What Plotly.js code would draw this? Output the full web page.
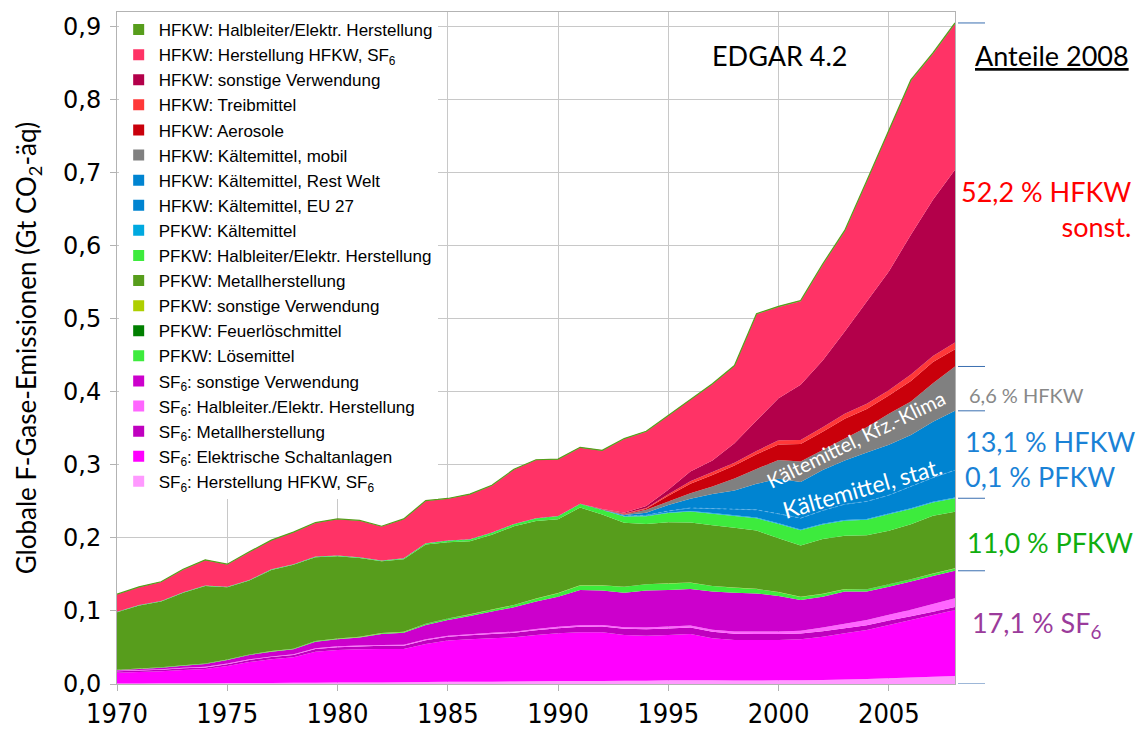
<!DOCTYPE html>
<html><head><meta charset="utf-8">
<script src="https://cdn.plot.ly/plotly-3.0.1.min.js"></script>
<style>html,body{margin:0;padding:0;background:#fff}#chart{width:1141px;height:729px}</style>
</head><body><div id="chart"></div>
<script>
const years = [1970,1971,1972,1973,1974,1975,1976,1977,1978,1979,1980,1981,1982,1983,1984,1985,1986,1987,1988,1989,1990,1991,1992,1993,1994,1995,1996,1997,1998,1999,2000,2001,2002,2003,2004,2005,2006,2007,2008];

// Series values (Gt CO2-äq), bottom of stack first
const sf6Herst   = [.0008,.0008,.0009,.001,.001,.0012,.0013,.0015,.0016,.0018,.002,.002,.0022,.0024,.0026,.003,.003,.0032,.0034,.0036,.004,.004,.0042,.0044,.0045,.005,.005,.005,.0048,.0048,.005,.005,.0055,.006,.007,.008,.009,.010,.011];
const sf6Schalt  = [.0147,.0156,.0165,.0182,.0195,.0235,.0287,.0323,.0349,.0425,.0446,.0455,.0458,.0456,.0522,.0564,.0582,.0594,.0606,.0635,.0654,.0668,.0666,.0627,.0617,.0621,.0635,.0576,.0555,.0555,.0553,.0562,.0593,.0634,.0670,.0728,.0787,.0845,.0904];
const sf6Metall  = [.002,.002,.002,.0022,.0022,.0025,.003,.003,.0032,.0035,.0038,.004,.0042,.0045,.005,.0052,.0055,.0058,.006,.0065,.007,.0075,.008,.0085,.0088,.009,.009,.0088,.0085,.0082,.008,.0078,.0075,.007,.0065,.006,.005,.0045,.004];
const sf6Halbl   = [.0008,.0008,.0008,.0008,.0009,.0009,.0009,.001,.001,.0011,.0012,.0012,.0013,.0013,.0014,.0015,.0015,.0016,.0017,.0018,.002,.002,.0021,.0022,.0023,.0025,.0027,.0029,.0031,.0033,.0035,.004,.005,.006,.007,.008,.009,.0105,.012];
const sf6Sonst   = [.0007,.0013,.0022,.0029,.0038,.0048,.0058,.0065,.0068,.0091,.0096,.0108,.015,.0162,.0196,.0216,.025,.0291,.0333,.0374,.0412,.0485,.047,.0472,.0506,.0502,.0498,.0522,.0531,.0522,.0487,.042,.0423,.0441,.039,.0385,.0385,.0385,.0376];
const pfkwLoese  = [.0003,.0003,.0003,.0004,.0004,.0005,.0005,.0006,.0006,.0007,.0008,.0009,.001,.0012,.0015,.0018,.002,.0025,.003,.0038,.0046,.006,.007,.008,.0085,.0088,.0085,.0075,.0068,.006,.005,.004,.0035,.0032,.003,.003,.003,.003,.003];
const pfkwFeuer  = [.0001,.0001,.0001,.0001,.0001,.0001,.0001,.0001,.0001,.0001,.0001,.0001,.0001,.0001,.0001,.0001,.0001,.0001,.0001,.0001,.0001,.0001,.0001,.0001,.0001,.0001,.0001,.0001,.0001,.0001,.0001,.0001,.0001,.0001,.0001,.0001,.0001,.0001,.0001];
const pfkwSonst  = [.0002,.0002,.0002,.0002,.0002,.0002,.0002,.0002,.0002,.0002,.0002,.0002,.0002,.0002,.0002,.0002,.0002,.0002,.0002,.0002,.0002,.0002,.0002,.0002,.0002,.0002,.0002,.0002,.0002,.0002,.0002,.0002,.0002,.0002,.0002,.0002,.0002,.0002,.0002];
const pfkwMetall = [.0788,.0863,.0901,.0991,.1062,.0989,.1012,.111,.1147,.1145,.1127,.1078,.0981,.0992,.1083,.1043,.0999,.1024,.1075,.1063,.1011,.1065,.0967,.0874,.0823,.0836,.0823,.0831,.0819,.0797,.0737,.0702,.0751,.0728,.0739,.0731,.0753,.0789,.0774];
const pfkwHalbl  = [.0006,.0006,.0006,.0007,.0007,.0007,.0008,.0008,.0009,.0009,.001,.001,.0011,.0013,.0018,.0022,.0026,.003,.0034,.0038,.0045,.005,.0065,.0085,.0105,.0125,.0149,.0156,.016,.017,.0195,.021,.020,.0207,.0213,.0228,.0207,.0183,.0186];
const pfkwKaelte = [0,0,0,0,0,0,0,0,0,0,0,0,0,0,0,0,0,0,0,0,0,0,0,.0003,.0005,.0008,.001,.001,.001,.001,.001,.001,.001,.001,.001,.001,.001,.001,.001];
const hfkwEU     = [0,0,0,0,0,0,0,0,0,0,0,0,0,0,0,0,0,0,0,0,0,0,.0001,.0005,.001,.002,.004,.006,.008,.0105,.013,.0155,.018,.0215,.024,.025,.030,.033,.0375];
const hfkwRest   = [0,0,0,0,0,0,0,0,0,0,0,0,0,0,0,0,0,0,0,0,0,0,.0002,.0012,.0035,.0084,.0125,.020,.026,.0355,.048,.0495,.0555,.060,.067,.069,.0705,.0765,.0812];
const hfkwMobil  = [0,0,0,0,0,0,0,0,0,0,0,0,0,0,0,0,0,0,0,0,0,0,.0002,.0008,.0039,.0046,.0077,.0103,.0163,.0205,.0258,.0281,.0275,.0301,.0346,.0424,.0458,.0529,.0607];
const hfkwAero   = [0,0,0,0,0,0,0,0,0,0,0,0,0,0,0,0,0,0,0,0,0,0,.0003,.0008,.0015,.008,.013,.016,.018,.020,.021,.024,.025,.027,.025,.025,.028,.029,.0235];
const hfkwTreib  = [0,0,0,0,0,0,0,0,0,0,0,0,0,0,0,0,0,0,0,0,0,0,.0002,.0005,.001,.002,.0035,.0038,.0035,.0045,.0058,.0055,.006,.0068,.0072,.0074,.009,.008,.0095];
const hfkwSonst  = [0,0,0,0,0,0,0,0,0,0,0,0,0,0,0,0,0,0,0,0,0,0,.0003,.001,.0029,.006,.0132,.0158,.0269,.0417,.0577,.0755,.0914,.1127,.1399,.1625,.1913,.2141,.2364];
const hfkwHerst  = [.0235,.0245,.0258,.0309,.0345,.0302,.038,.0395,.0435,.0461,.0495,.05,.0465,.0535,.0578,.0572,.0615,.0642,.0743,.0795,.0774,.0767,.0796,.101,.1015,.1015,.0984,.1044,.1056,.1456,.125,.1144,.1311,.1374,.1643,.1932,.2109,.200,.1999];
const hfkwHalbl  = [.0005,.0005,.0005,.0005,.0005,.0005,.0005,.0005,.0005,.0005,.0005,.0005,.0005,.0005,.0005,.0005,.0005,.0005,.0005,.0005,.0005,.0007,.0007,.0007,.0007,.0007,.0007,.0007,.0007,.0007,.0007,.001,.001,.001,.001,.001,.001,.001,.001];

const seriesNames = [
  "SF<sub>6</sub>: Herstellung HFKW, SF<sub>6</sub>",
  "SF<sub>6</sub>: Elektrische Schaltanlagen",
  "SF<sub>6</sub>: Metallherstellung",
  "SF<sub>6</sub>: Halbleiter./Elektr. Herstellung",
  "SF<sub>6</sub>: sonstige Verwendung",
  "PFKW: Lösemittel",
  "PFKW: Feuerlöschmittel",
  "PFKW: sonstige Verwendung",
  "PFKW: Metallherstellung",
  "PFKW: Halbleiter/Elektr. Herstellung",
  "PFKW: Kältemittel",
  "HFKW: Kältemittel, EU 27",
  "HFKW: Kältemittel, Rest Welt",
  "HFKW: Kältemittel, mobil",
  "HFKW: Aerosole",
  "HFKW: Treibmittel",
  "HFKW: sonstige Verwendung",
  "HFKW: Herstellung HFKW, SF<sub>6</sub>",
  "HFKW: Halbleiter/Elektr. Herstellung"
];
const seriesValues = [sf6Herst,sf6Schalt,sf6Metall,sf6Halbl,sf6Sonst,pfkwLoese,pfkwFeuer,pfkwSonst,pfkwMetall,pfkwHalbl,pfkwKaelte,hfkwEU,hfkwRest,hfkwMobil,hfkwAero,hfkwTreib,hfkwSonst,hfkwHerst,hfkwHalbl];
const seriesColors = ["#ff99ff","#ff00ff","#bf00bf","#ff66ff","#cc00cc","#3deb3d","#007f00","#aecf00","#579d1c","#3deb3d","#00a9e0","#0084d1","#0084d1","#808080","#c9000b","#ff3838","#b3004a","#ff3366","#579d1c"];

// share labels (2008)
const shareTexts = ["52,2 % HFKW<br>sonst.","6,6 % HFKW","13,1 % HFKW<br>0,1 % PFKW","11,0 % PFKW","17,1 % SF<sub>6</sub>"];
const bandLabels = ["Kältemittel, Kfz.-Klima","Kältemittel, stat."];

const traces = [];
seriesValues.forEach((vals,i)=>{
  const t = {x:years, y:vals, type:'scatter', stackgroup:'one', mode:'none',
    fillcolor:seriesColors[i], showlegend:false, hoverinfo:'skip', name:seriesNames[i]};
  if(i===18){ t.mode='lines'; t.line={color:'#579d1c', width:1.2}; }
  if(i===11){ t.mode='lines'; t.line={color:'#6fb8ea', width:0.8, dash:'dot'}; }
  traces.push(t);
});
// legend entries (top of stack listed first)
for(let i=seriesValues.length-1;i>=0;i--){
  traces.push({x:[null], y:[null], type:'scatter', mode:'markers', name:seriesNames[i],
    marker:{symbol:'square', size:11, color:seriesColors[i]}, showlegend:true, hoverinfo:'skip'});
}

// cumulative tops in the last year for the share brackets
const last = years.length-1;
function cumTo(idx){ let s=0; for(let k=0;k<=idx;k++) s+=seriesValues[k][last]; return s; }
const bracketLevels = [0, cumTo(4), cumTo(9), cumTo(12), cumTo(13), cumTo(18)];
const shapes = bracketLevels.map(v=>({type:'line', xref:'paper', yref:'y', x0:1.0036, x1:1.0358, y0:v, y1:v,
  line:{color:'#3a6fb0', width:1}}));

const F = 'Lato, "Open Sans", sans-serif';
const annotations = [
  {xref:'paper', yref:'paper', x:0.7912, y:0.936, text:'EDGAR 4.2', showarrow:false, xanchor:'center', yanchor:'middle', font:{family:F, size:27, color:'#000'}},
  {xref:'paper', yref:'paper', x:1.1158, y:0.936, text:'Anteile 2008', showarrow:false, xanchor:'center', yanchor:'middle', font:{family:F, size:27, color:'#000', lineposition:'under'}},
  {xref:'paper', yref:'paper', x:1.2124, y:0.7068, text:shareTexts[0], showarrow:false, xanchor:'right', yanchor:'middle', align:'right', font:{family:F, size:27, color:'#ff0000'}},
  {xref:'paper', yref:'paper', x:1.0143, y:0.430, text:shareTexts[1], showarrow:false, xanchor:'left', yanchor:'middle', font:{family:F, size:20, color:'#888888'}},
  {xref:'paper', yref:'paper', x:1.0096, y:0.3348, text:shareTexts[2], showarrow:false, xanchor:'left', yanchor:'middle', align:'left', font:{family:F, size:27, color:'#1a82d6'}},
  {xref:'paper', yref:'paper', x:1.012, y:0.2113, text:shareTexts[3], showarrow:false, xanchor:'left', yanchor:'middle', font:{family:F, size:27, color:'#10ae10'}},
  {xref:'paper', yref:'paper', x:1.018, y:0.0878, text:shareTexts[4], showarrow:false, xanchor:'left', yanchor:'middle', font:{family:F, size:27, color:'#9b3b9b'}},
  {xref:'x', yref:'y', x:2003.5, y:0.3356, text:bandLabels[0], showarrow:false, textangle:-26, font:{family:F, size:20, color:'#ffffff'}},
  {xref:'x', yref:'y', x:2003.76, y:0.2685, text:bandLabels[1], showarrow:false, textangle:-16, font:{family:F, size:23, color:'#ffffff'}}
];

const layout = {
  width:1141, height:729,
  margin:{l:117, r:186, t:12, b:45, pad:0},
  paper_bgcolor:'#ffffff', plot_bgcolor:'#ffffff',
  separators:',.',
  font:{family:'"Liberation Sans", Arial, sans-serif', color:'#000'},
  showlegend:true,
  legend:{x:0.002, y:1, xanchor:'left', yanchor:'top', bgcolor:'#ffffff', borderwidth:0,
    traceorder:'normal', itemsizing:'trace', font:{family:'"Liberation Sans", Arial, sans-serif', size:17, color:'#000'}},
  xaxis:{range:[1970,2008], tick0:1970, dtick:5, showgrid:true, gridcolor:'#c8c8c8', gridwidth:1,
    showline:true, linecolor:'#b3b3b3', mirror:true, ticks:'outside', ticklen:6, tickcolor:'#b3b3b3',
    zeroline:false, tickfont:{family:'"DejaVu Sans Condensed", "DejaVu Sans", sans-serif', size:27, color:'#000'}},
  yaxis:{range:[0,0.92], tick0:0, dtick:0.1, tickformat:'.1f', showgrid:true, gridcolor:'#c8c8c8', gridwidth:1,
    showline:true, linecolor:'#b3b3b3', mirror:true, ticks:'outside', ticklen:6, tickcolor:'#b3b3b3',
    zeroline:false, ticklabelstandoff:4,
    tickfont:{family:'"DejaVu Sans", sans-serif', size:24, color:'#000'},
    title:{text:'Globale F-Gase-Emissionen (Gt CO<sub>2</sub>-äq)', standoff:18, font:{family:F, size:26, color:'#000'}}},
  shapes:shapes,
  annotations:annotations
};
Plotly.newPlot('chart', traces, layout, {displayModeBar:false, staticPlot:true});
</script></body></html>
